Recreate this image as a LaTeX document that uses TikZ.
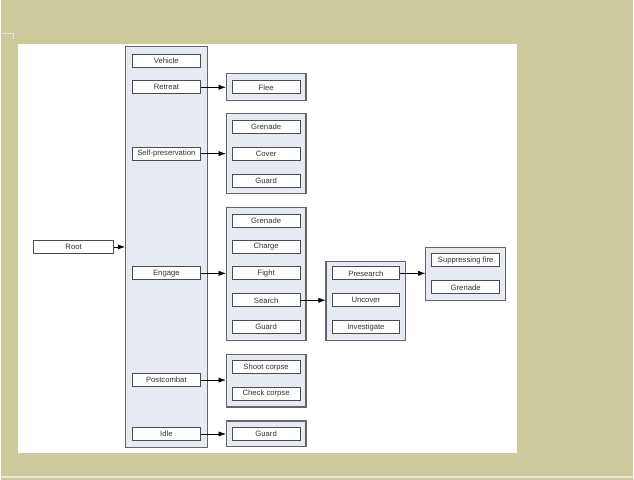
\documentclass[tikz,border=0pt]{standalone}
\usepackage{fontspec}
\setmainfont{Liberation Sans}
\usetikzlibrary{arrows.meta}
\definecolor{khaki}{RGB}{204,201,154}
\definecolor{paleline}{RGB}{232,230,210}
\definecolor{groupfill}{RGB}{229,234,243}
\begin{document}
\begin{tikzpicture}[x=1pt,y=-1pt,>={Latex[length=7pt,width=5pt]},font=\fontsize{7.7}{8}\selectfont,
		item/.style={draw=black!70,line width=0.9pt,fill=white,text=black!80,minimum width=68pt,minimum height=13pt,inner sep=0pt},
		group/.style={draw=black!60,line width=1.1pt,fill=groupfill,minimum width=80pt,inner sep=0pt}]
	% page and white sheet
	\fill[khaki] (0,0) rectangle (634,481);
	\fill[white] (17,44) rectangle (517,454);
	\draw[paleline,line width=1.5pt] (0,478)--(634,478);
	\draw[paleline] (1,33)--(12,33)--(12,39);
	% groups
	\node[group,minimum width=82pt,minimum height=402pt] (gcol) at (166,248) {};
	\node[group,minimum height=27pt] (gflee) at (266,87.5) {};
	\node[group,minimum height=80pt] (gself) at (266,154) {};
	\node[group,minimum height=133pt] (gengage) at (266,274.5) {};
	\node[group,minimum height=53pt] (gpost) at (266,381.5) {};
	\node[group,minimum height=26pt] (gidle) at (266,435) {};
	\node[group,minimum height=79pt] (gsearch) at (366,301.5) {};
	\node[group,minimum height=53pt] (gpre) at (466,274.5) {};
	% root and first column
	\node[item,minimum width=80pt] (root) at (73,247.5) {Root};
	\node[item] (vehicle) at (166,61) {Vehicle};
	\node[item] (retreat) at (166,87.5) {Retreat};
	\node[item] (selfpres) at (166,154) {Self-preservation};
	\node[item] (engage) at (166,274) {Engage};
	\node[item] (postcombat) at (166,381) {Postcombat};
	\node[item] (idle) at (166,435) {Idle};
	% second column
	\node[item] (flee) at (266,87.5) {Flee};
	\node[item] (sgrenade) at (266,127.5) {Grenade};
	\node[item] (cover) at (266,154) {Cover};
	\node[item] (sguard) at (266,181) {Guard};
	\node[item] (egrenade) at (266,221) {Grenade};
	\node[item] (charge) at (266,247.5) {Charge};
	\node[item] (fight) at (266,274) {Fight};
	\node[item] (search) at (266,301) {Search};
	\node[item] (eguard) at (266,328) {Guard};
	\node[item] (shoot) at (266,368) {Shoot corpse};
	\node[item] (check) at (266,394.5) {Check corpse};
	\node[item] (iguard) at (266,435) {Guard};
	% third and fourth column
	\node[item] (presearch) at (366,274) {Presearch};
	\node[item] (uncover) at (366,301) {Uncover};
	\node[item] (investigate) at (366,328) {Investigate};
	\node[item] (suppress) at (466,261) {Suppressing fire};
	\node[item] (pgrenade) at (466,288) {Grenade};
	% arrows
	\draw[->] (root)--(root -| gcol.west);
	\draw[->] (retreat)--(retreat -| gflee.west);
	\draw[->] (selfpres)--(selfpres -| gself.west);
	\draw[->] (engage)--(engage -| gengage.west);
	\draw[->] (postcombat)--(postcombat -| gpost.west);
	\draw[->] (idle)--(idle -| gidle.west);
	\draw[->] (search)--(search -| gsearch.west);
	\draw[->] (presearch)--(presearch -| gpre.west);
\end{tikzpicture}
\end{document}
